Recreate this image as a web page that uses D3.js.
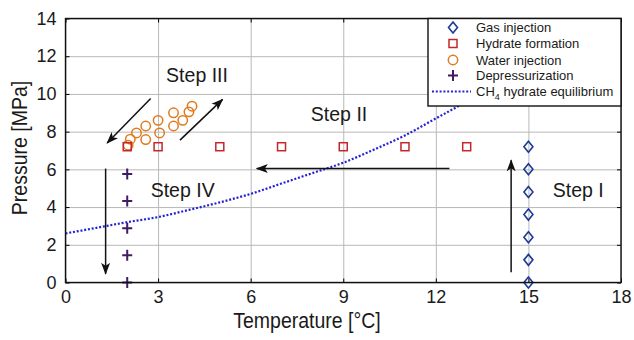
<!DOCTYPE html>
<html>
<head>
<meta charset="utf-8">
<script src="https://cdn.jsdelivr.net/npm/d3@7"></script>
<style>
  body { margin: 0; background: #fff; }
  svg { display: block; font-family: "Liberation Sans", Arial, sans-serif; }
</style>
</head>
<body>
<svg id="chart" width="634" height="340"></svg>
<script>
// ---- data ----
const xTicks = [0, 3, 6, 9, 12, 15, 18];
const yTicks = [0, 2, 4, 6, 8, 10, 12, 14];

const gasInjection = [[15, 0], [15, 1.2], [15, 2.4], [15, 3.6], [15, 4.8], [15, 6.0], [15, 7.2]];
const hydrateFormation = [[2, 7.2], [3, 7.2], [5, 7.2], [7, 7.2], [9, 7.2], [11, 7.2], [13, 7.2]];
const waterInjection = [
  [2.03, 7.28], [2.1, 7.6], [2.3, 7.93], [2.6, 8.3], [2.6, 7.58], [3.0, 8.6],
  [3.05, 7.93], [3.5, 9.0], [3.5, 8.3], [3.8, 8.6], [4.0, 9.05], [4.1, 9.35]
];
const depressurization = [[2, 5.76], [2, 4.32], [2, 2.88], [2, 1.44], [2, 0]];
const equilibriumT = [0, 1, 2, 3, 4, 5, 6, 7, 8, 9, 10, 11, 12, 13, 14];
const equilibriumP = [2.6, 2.9, 3.2, 3.47, 3.85, 4.25, 4.7, 5.25, 5.8, 6.35, 7.05, 7.8, 8.7, 9.6, 10.6];

const legendLabels = ["Gas injection", "Hydrate formation", "Water injection", "Depressurization"];

// arrows [x1, y1, x2, y2] in data units, and step labels (left end of text)
const arrows = [
  [2.76, 9.76, 1.35, 7.4],
  [3.71, 7.55, 5.09, 9.71],
  [12.44, 6.04, 6.2, 6.04],
  [14.44, 0.55, 14.44, 6.48],
  [1.3, 6.04, 1.3, 0.46]
];
const stepLabels = [
  { text: "Step III", t: 3.26, p: 10.62 },
  { text: "Step II", t: 7.95, p: 8.55 },
  { text: "Step IV", t: 2.76, p: 4.56 },
  { text: "Step I", t: 15.79, p: 4.56 }
];

// ---- layout ----
const svg = d3.select("#chart");
const margin = { left: 65.5, top: 18.5, right: 13, bottom: 57.5 };
const width = 634 - margin.left - margin.right;
const height = 340 - margin.top - margin.bottom;

const x = d3.scaleLinear().domain([0, 18]).range([0, width]);
const y = d3.scaleLinear().domain([0, 14]).range([height, 0]);

const g = svg.append("g").attr("transform", `translate(${margin.left},${margin.top})`);

svg.append("defs").append("clipPath").attr("id", "plotclip")
  .append("rect").attr("width", width).attr("height", height);

svg.select("defs").append("marker")
  .attr("id", "head")
  .attr("markerUnits", "userSpaceOnUse")
  .attr("viewBox", "0 -5 12 10")
  .attr("markerWidth", 12).attr("markerHeight", 10)
  .attr("refX", 11).attr("refY", 0)
  .attr("orient", "auto")
  .append("path")
  .attr("d", "M0,-4.5L12,0L0,4.5L3,0Z")
  .attr("fill", "#111");

// text helper: the source figure is a bit stretched vertically
function addText(parent, px, py, str, size, anchor, stretch, rotate) {
  return parent.append("text")
    .attr("transform", `translate(${px},${py})${rotate ? " rotate(" + rotate + ")" : ""} scale(1,${stretch})`)
    .attr("text-anchor", anchor)
    .attr("font-size", size)
    .attr("fill", "#1a1a1a")
    .text(str);
}

// grid
g.append("g").attr("transform", `translate(0,${height})`)
  .call(d3.axisBottom(x).tickValues(xTicks).tickSize(-height).tickFormat(""))
  .call(a => a.select(".domain").remove())
  .selectAll("line").attr("stroke", "#b8b8b8").attr("stroke-width", 1);
g.append("g")
  .call(d3.axisLeft(y).tickValues(yTicks).tickSize(-width).tickFormat(""))
  .call(a => a.select(".domain").remove())
  .selectAll("line").attr("stroke", "#b8b8b8").attr("stroke-width", 1);

// axes with inward ticks
const xAxis = g.append("g").attr("transform", `translate(0,${height})`)
  .call(d3.axisBottom(x).tickValues(xTicks).tickSizeInner(-4).tickSizeOuter(0).tickPadding(8));
const yAxis = g.append("g")
  .call(d3.axisLeft(y).tickValues(yTicks).tickSizeInner(-4).tickSizeOuter(0).tickPadding(9));
g.append("g").call(d3.axisTop(x).tickValues(xTicks).tickSizeInner(-4).tickSizeOuter(0).tickFormat(""));
g.append("g").attr("transform", `translate(${width},0)`)
  .call(d3.axisRight(y).tickValues(yTicks).tickSizeInner(-4).tickSizeOuter(0).tickFormat(""));
g.selectAll(".domain").remove();
g.selectAll(".tick line").filter(function () { return !d3.select(this).attr("stroke"); })
  .attr("stroke", "#111").attr("stroke-width", 1.2);
[xAxis, yAxis].forEach(a => a.selectAll("text")
  .attr("font-size", 18).attr("fill", "#1a1a1a").attr("font-family", "Liberation Sans, Arial, sans-serif"));

// equilibrium curve
const eqLine = d3.line().x(d => x(d[0])).y(d => y(d[1])).curve(d3.curveMonotoneX);
g.append("path")
  .attr("clip-path", "url(#plotclip)")
  .attr("d", eqLine(equilibriumT.map((t, i) => [t, equilibriumP[i]])))
  .attr("fill", "none")
  .attr("stroke", "#2323d6")
  .attr("stroke-width", 2.2)
  .attr("stroke-dasharray", "2,1.8");

// arrows
g.selectAll(".arrow").data(arrows).join("line")
  .attr("class", "arrow")
  .attr("x1", d => x(d[0])).attr("y1", d => y(d[1]))
  .attr("x2", d => x(d[2])).attr("y2", d => y(d[3]))
  .attr("stroke", "#111").attr("stroke-width", 1.5)
  .attr("marker-end", "url(#head)");

// markers
const diamond = (cx, cy) => `M${cx},${cy - 5.5}L${cx + 4.5},${cy}L${cx},${cy + 5.5}L${cx - 4.5},${cy}Z`;
const plus = (cx, cy) => `M${cx - 5},${cy}H${cx + 5}M${cx},${cy - 5.5}V${cy + 5.5}`;

g.selectAll(".water").data(waterInjection).join("circle")
  .attr("cx", d => x(d[0])).attr("cy", d => y(d[1])).attr("r", 4.7)
  .attr("fill", "none").attr("stroke", "#e07a1c").attr("stroke-width", 1.5);

g.selectAll(".hydrate").data(hydrateFormation).join("rect")
  .attr("x", d => x(d[0]) - 4).attr("y", d => y(d[1]) - 4)
  .attr("width", 8).attr("height", 8)
  .attr("fill", "none").attr("stroke", "#c4262b").attr("stroke-width", 1.5);

g.selectAll(".gas").data(gasInjection).join("path")
  .attr("d", d => diamond(x(d[0]), y(d[1])))
  .attr("fill", "none").attr("stroke", "#1c3a96").attr("stroke-width", 1.6);

g.selectAll(".depress").data(depressurization).join("path")
  .attr("d", d => plus(x(d[0]), y(d[1])))
  .attr("fill", "none").attr("stroke", "#3f1c63").attr("stroke-width", 2);

// step labels
stepLabels.forEach(s => addText(g, x(s.t), y(s.p), s.text, 19.5, "start", 1));

// frame
g.append("rect").attr("width", width).attr("height", height)
  .attr("fill", "none").attr("stroke", "#111").attr("stroke-width", 1.4);

// legend
const lg = svg.append("g").attr("transform", "translate(428,18.5)");
lg.append("rect").attr("width", 193).attr("height", 87.5)
  .attr("fill", "#fff").attr("stroke", "#111").attr("stroke-width", 1.4);
const rowY = [9, 25, 41.5, 57, 73];
const mx = 25;
lg.append("path").attr("d", diamond(mx, rowY[0])).attr("fill", "none").attr("stroke", "#1c3a96").attr("stroke-width", 1.6);
lg.append("rect").attr("x", mx - 4).attr("y", rowY[1] - 4).attr("width", 8).attr("height", 8)
  .attr("fill", "none").attr("stroke", "#c4262b").attr("stroke-width", 1.5);
lg.append("circle").attr("cx", mx).attr("cy", rowY[2]).attr("r", 4.7)
  .attr("fill", "none").attr("stroke", "#e07a1c").attr("stroke-width", 1.5);
lg.append("path").attr("d", plus(mx, rowY[3])).attr("fill", "none").attr("stroke", "#3f1c63").attr("stroke-width", 2);
lg.append("line").attr("x1", 4).attr("x2", 43).attr("y1", rowY[4]).attr("y2", rowY[4])
  .attr("stroke", "#2323d6").attr("stroke-width", 2).attr("stroke-dasharray", "2,1.8");
legendLabels.forEach((l, i) => addText(lg, 48, rowY[i] + 4.5, l, 13, "start", 1));
const eqText = addText(lg, 48, rowY[4] + 4.5, "CH", 13, "start", 1);
eqText.append("tspan").attr("font-size", 9).attr("dy", 3.5).text("4");
eqText.append("tspan").attr("dy", -3.5).text(" hydrate equilibrium");

// axis titles
addText(svg, 307, 328, "Temperature [°C]", 19.5, "middle", 1.12);
addText(svg, 27, 148, "Pressure [MPa]", 19.5, "middle", 1.17, -90);
</script>
</body>
</html>
